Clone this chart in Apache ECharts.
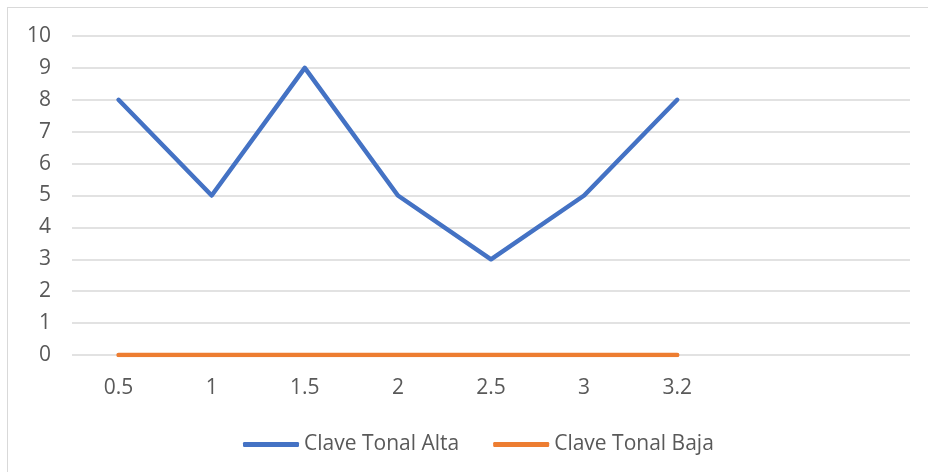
<!DOCTYPE html>
<html>
<head>
<meta charset="utf-8">
<script src="https://cdn.jsdelivr.net/npm/echarts@6/dist/echarts.min.js"></script>
<style>
html,body{margin:0;padding:0;background:#fff;overflow:hidden;}
#frame{position:absolute;left:7px;top:7px;width:960px;height:500px;border:1px solid #d9d9d9;box-sizing:border-box;}
#chart{position:absolute;left:0;top:0;width:928px;height:472px;}
</style>
</head>
<body>
<div id="frame"></div>
<div id="chart"></div>
<script>
var categories = ['0.5', '1', '1.5', '2', '2.5', '3', '3.2', '', ''];
var altaValues = [8, 5, 9, 5, 3, 5, 8];
var bajaValues = [0, 0, 0, 0, 0, 0, 0];
var seriesNames = ['Clave Tonal Alta', 'Clave Tonal Baja'];

var chart = echarts.init(document.getElementById('chart'), null, {renderer: 'canvas'});
var font = 'Open Sans';
var fs = 21;
chart.setOption({
  animation: false,
  backgroundColor: 'transparent',
  grid: {left: 72, right: 18, top: 36, bottom: 117},
  legend: {
    bottom: 17,
    left: 243,
    padding: 0,
    itemWidth: 56,
    itemHeight: 5,
    itemGap: 34,
    icon: 'roundRect',
    textStyle: {color: '#595959', fontSize: fs, fontFamily: font},
    data: seriesNames
  },
  xAxis: {
    type: 'category',
    data: categories,
    boundaryGap: true,
    axisLine: {show: false},
    axisTick: {show: false},
    axisLabel: {color: '#595959', fontSize: fs, fontFamily: font, margin: 23, interval: 0}
  },
  yAxis: {
    type: 'value',
    min: 0, max: 10, interval: 1,
    axisLine: {show: false},
    axisTick: {show: false},
    axisLabel: {color: '#595959', fontSize: fs, fontFamily: font, margin: 21},
    splitLine: {lineStyle: {color: '#d9d9d9', width: 1.5}}
  },
  series: [
    {
      name: seriesNames[0], type: 'line', data: altaValues,
      symbol: 'none', color: '#4472C4',
      lineStyle: {width: 4.5, color: '#4472C4', cap: 'round', join: 'round'}
    },
    {
      name: seriesNames[1], type: 'line', data: bajaValues,
      symbol: 'none', color: '#ED7D31',
      lineStyle: {width: 4.5, color: '#ED7D31', cap: 'round', join: 'round'}
    }
  ]
});
</script>
</body>
</html>
